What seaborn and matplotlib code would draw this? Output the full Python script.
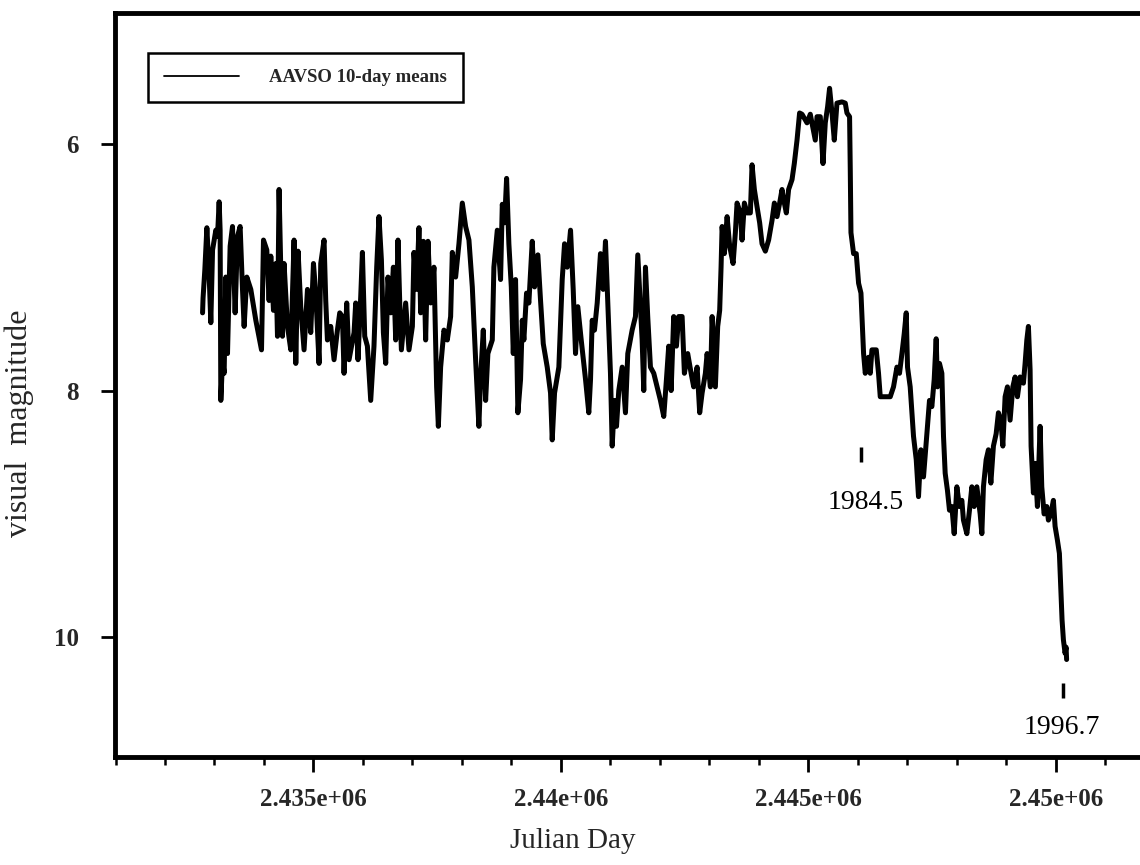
import matplotlib
matplotlib.use('Agg')
import pandas as pd
import matplotlib.pyplot as plt
import seaborn as sns
from matplotlib.ticker import MultipleLocator

# AAVSO 10-day means
jd = [
    2432759, 2432769, 2432805, 2432846, 2432886, 2432926, 2432961, 2433027, 2433061, 2433094,
    2433114, 2433128, 2433163, 2433195, 2433229, 2433263, 2433316, 2433364, 2433417, 2433465,
    2433518, 2433566, 2433599, 2433653, 2433734, 2433835, 2433950, 2433990, 2434057, 2434103,
    2434138, 2434192, 2434239, 2434273, 2434305, 2434340, 2434374, 2434406, 2434475, 2434542,
    2434608, 2434643, 2434689, 2434743, 2434810, 2434879, 2434945, 2435000, 2435046, 2435113,
    2435147, 2435214, 2435248, 2435282, 2435349, 2435416, 2435484, 2435531,
    2435585, 2435618, 2435672, 2435719, 2435820, 2435854, 2435900, 2435955, 2435989, 2436036,
    2436090, 2436157, 2436223, 2436278, 2436324, 2436373, 2436413, 2436460, 2436506, 2436561,
    2436615, 2436662, 2436708, 2436748, 2436777, 2436863, 2436930, 2436999, 2437031, 2437086,
    2437132, 2437166, 2437221, 2437267, 2437314, 2437368, 2437435, 2437489, 2437524, 2437570,
    2437637, 2437705, 2437772, 2437806, 2437873, 2437940, 2438008, 2438075, 2438142, 2438210,
    2438277, 2438343, 2438378, 2438432, 2438479, 2438525,
    2438614, 2438646, 2438715, 2438781, 2438816, 2438862, 2438903, 2438949, 2438998, 2439038,
    2439084, 2439131, 2439185, 2439220, 2439252, 2439306, 2439353, 2439421, 2439468, 2439535,
    2439589, 2439644, 2439724, 2439791, 2439825, 2439872, 2439959, 2440027, 2440074, 2440128,
    2440195, 2440249, 2440296, 2440342, 2440411, 2440498, 2440564, 2440599, 2440633, 2440679,
    2440734, 2440800, 2440855, 2440901, 2440948, 2441002, 2441037, 2441083, 2441124, 2441170,
    2441239, 2441305, 2441352, 2441440, 2441507, 2441554,
    2441642, 2441675, 2441709, 2441755, 2441810, 2441877, 2441945, 2442012, 2442079, 2442133,
    2442179, 2442228, 2442280, 2442335, 2442381, 2442450, 2442496, 2442563, 2442632, 2442684,
    2442753, 2442805, 2442854, 2442920, 2442955, 2443021, 2443056, 2443122, 2443169, 2443209,
    2443237, 2443258, 2443304, 2443359, 2443411, 2443480, 2443526, 2443560, 2443627, 2443661,
    2443708, 2443762, 2443829, 2443863, 2443910, 2443964, 2444017, 2444065, 2444132, 2444198,
    2444267, 2444314, 2444368, 2444421, 2444469, 2444501, 2444556, 2444602, 2444671, 2444717,
    2444772, 2444824,
    2444873, 2444974, 2445040, 2445141, 2445176, 2445242, 2445297, 2445343, 2445390, 2445430,
    2445479, 2445525, 2445579, 2445680, 2445747, 2445781, 2445834, 2445848, 2445862, 2445915,
    2445969, 2446016, 2446064, 2446117, 2446151, 2446217, 2446252, 2446286, 2446373, 2446419,
    2446454, 2446555, 2446656, 2446722, 2446791, 2446843, 2446892, 2446938, 2446979, 2447005,
    2447059, 2447126, 2447181, 2447227, 2447275, 2447328, 2447397, 2447449,
    2447497, 2447544, 2447584, 2447611, 2447651, 2447699, 2447732, 2447766, 2447812, 2447853,
    2447901, 2447948, 2448002, 2448055, 2448103, 2448135, 2448204, 2448257, 2448305, 2448352,
    2448406, 2448473, 2448507, 2448539, 2448594, 2448640, 2448689, 2448741, 2448796, 2448842,
    2448891, 2448931, 2448977, 2449024, 2449078, 2449133, 2449179, 2449226, 2449280, 2449347,
    2449381, 2449416, 2449448, 2449482, 2449502, 2449549, 2449583, 2449630, 2449684, 2449718,
    2449765, 2449819, 2449852, 2449900, 2449953, 2449987, 2450033, 2450074, 2450102, 2450128,
    2450155, 2450189, 2450209, 2450220,
]
vmag = [
    7.37, 7.25, 7.02, 6.68, 7.00, 7.45, 6.86, 6.70, 6.75, 6.47,
    6.70, 8.08, 7.75, 7.86, 7.08, 7.70, 6.83, 6.67, 7.37, 6.75,
    6.67, 7.18, 7.48, 7.08, 7.18, 7.43, 7.67, 6.78, 6.86, 7.27,
    6.91, 7.35, 6.97, 7.56, 6.37, 7.02, 7.56, 6.97, 7.48, 7.67,
    6.78, 7.78, 6.87, 7.32, 7.67, 7.18, 7.53, 6.97, 7.21, 7.78,
    6.97, 6.78, 7.27, 7.59, 7.48, 7.75, 7.51, 7.37,
    7.40, 7.86, 7.29, 7.75, 7.53, 7.29, 7.75, 7.24, 6.88, 7.56,
    7.64, 8.08, 7.64, 7.00, 6.59, 6.94, 7.53, 7.78, 7.08, 7.37,
    7.00, 7.59, 6.78, 7.35, 7.67, 7.29, 7.67, 7.48, 6.88, 7.18,
    6.68, 7.37, 6.79, 7.59, 6.79, 7.29, 7.00, 7.97, 8.29, 7.81,
    7.51, 7.59, 7.40, 6.88, 7.08, 6.81, 6.48, 6.67, 6.78, 7.16,
    7.75, 8.29, 7.89, 7.51, 8.08, 7.70,
    7.59, 7.00, 6.70, 7.10, 6.49, 6.64, 6.28, 6.81, 7.16, 7.70,
    7.10, 8.18, 7.91, 7.43, 7.59, 7.21, 7.29, 6.79, 7.16, 6.90,
    7.27, 7.62, 7.81, 8.02, 8.40, 8.02, 7.81, 7.10, 6.81, 7.00,
    6.70, 7.18, 7.70, 7.32, 7.59, 7.91, 8.18, 7.91, 7.43, 7.51,
    7.29, 6.89, 7.18, 6.79, 7.29, 7.86, 8.45, 8.08, 8.29, 8.00,
    7.81, 8.18, 7.70, 7.51, 7.40, 6.90,
    7.59, 8.00, 7.00, 7.40, 7.81, 7.86, 7.97, 8.08, 8.21, 7.91,
    7.64, 8.00, 7.40, 7.64, 7.40, 7.40, 7.86, 7.70, 7.86, 7.97,
    7.81, 8.18, 8.02, 7.86, 7.70, 7.97, 7.40, 7.97, 7.48, 7.35,
    7.00, 6.67, 6.89, 6.59, 6.83, 6.97, 6.72, 6.48, 6.56, 6.78,
    6.48, 6.56, 6.56, 6.17, 6.37, 6.51, 6.64, 6.81, 6.87, 6.78,
    6.62, 6.48, 6.59, 6.48, 6.37, 6.45, 6.56, 6.37, 6.29, 6.16,
    5.97, 5.75,
    5.76, 5.83, 5.76, 5.97, 5.78, 5.78, 6.16, 5.83, 5.70, 5.55,
    5.75, 5.97, 5.67, 5.66, 5.67, 5.75, 5.78, 6.21, 6.72, 6.89,
    6.89, 7.13, 7.21, 7.70, 7.86, 7.73, 7.86, 7.67, 7.67, 7.86,
    8.05, 8.05, 8.05, 7.97, 7.81, 7.86, 7.70, 7.54, 7.37, 7.81,
    7.97, 8.37, 8.56, 8.86, 8.48, 8.70, 8.35, 8.08,
    8.13, 7.91, 7.58, 7.97, 7.78, 7.86, 8.37, 8.67, 8.81, 8.97,
    8.94, 9.16, 8.78, 8.94, 8.89, 9.05, 9.16, 8.97, 8.78, 8.94,
    8.78, 9.00, 9.16, 8.78, 8.56, 8.48, 8.75, 8.45, 8.35, 8.18,
    8.24, 8.45, 8.05, 7.97, 8.24, 7.97, 7.89, 8.05, 7.89, 7.94,
    7.78, 7.59, 7.48, 7.83, 8.45, 8.83, 8.59, 8.94, 8.29, 8.78,
    9.00, 8.94, 9.05, 9.00, 8.89, 9.10, 9.21, 9.32, 9.59, 9.86,
    10.02, 10.13, 10.08, 10.18,
]

# epoch markers (year labels)
epoch_labels = ['1984.5', '1996.7']
epoch_jd = [2446064, 2450148]
epoch_mark_top = [8.46, 10.37]
epoch_mark_bottom = [8.58, 10.49]
epoch_text_jd = [2446151, 2450128]
epoch_text_mag = [8.91, 10.73]

xtick_major = [2435000, 2440000, 2445000, 2450000]
xtick_labels = ['2.435e+06', '2.44e+06', '2.445e+06', '2.45e+06']
ytick_vals = [6, 8, 10]
ytick_labels = ['6', '8', '10']

df = pd.DataFrame({'jd': jd, 'vmag': vmag})

sns.set_style('ticks')
plt.rcParams['font.family'] = ['Liberation Serif', 'DejaVu Serif']

fig = plt.figure(figsize=(11.4, 8.65), dpi=100)
ax = fig.add_axes([0.1009, 0.1249, 0.8991, 0.860])

sns.lineplot(data=df, x='jd', y='vmag', ax=ax, color='black', lw=3.6,
             estimator=None, sort=False, label='AAVSO 10-day means')

ax.set_xlim(2430990, 2451703)
ax.set_ylim(10.97, 4.94)

ax.set_xticks(xtick_major)
ax.set_xticklabels(xtick_labels, fontsize=18, fontweight='bold')
ax.xaxis.set_minor_locator(MultipleLocator(1000))
ax.set_yticks(ytick_vals)
ax.set_yticklabels(ytick_labels, fontsize=18, fontweight='bold')

ax.tick_params(axis='x', which='major', length=11, width=2, pad=11, direction='out', color='black')
ax.tick_params(axis='x', which='minor', length=6, width=1.8, direction='out', color='black')
ax.tick_params(axis='y', which='major', length=10, width=2, pad=16, direction='out', color='black')

for side in ['left', 'bottom', 'top']:
    ax.spines[side].set_linewidth(3.5)
    ax.spines[side].set_color('black')
ax.spines['right'].set_visible(False)

ax.set_xlabel('Julian Day', fontsize=21)
ax.xaxis.set_label_coords(0.447, -0.096)
ax.set_ylabel('visual  magnitude', fontsize=23)
ax.yaxis.set_label_coords(-0.079, 0.448)

ax.vlines(epoch_jd, epoch_mark_top, epoch_mark_bottom, color='black', lw=2.5)
for lab, tx, ty in zip(epoch_labels, epoch_text_jd, epoch_text_mag):
    ax.text(tx, ty, lab, fontsize=20, ha='center', va='center', color='black')

leg = ax.legend(loc='upper left', bbox_to_anchor=(0.032, 0.946), borderaxespad=0,
                frameon=True, fancybox=False, edgecolor='black', framealpha=1,
                prop={'weight': 'bold', 'size': 13.5}, handlelength=4.0,
                handletextpad=1.6, borderpad=0.85)
leg.get_frame().set_linewidth(1.8)
leg.get_lines()[0].set_linewidth(1.3)

fig.savefig('out.png', dpi=100)
